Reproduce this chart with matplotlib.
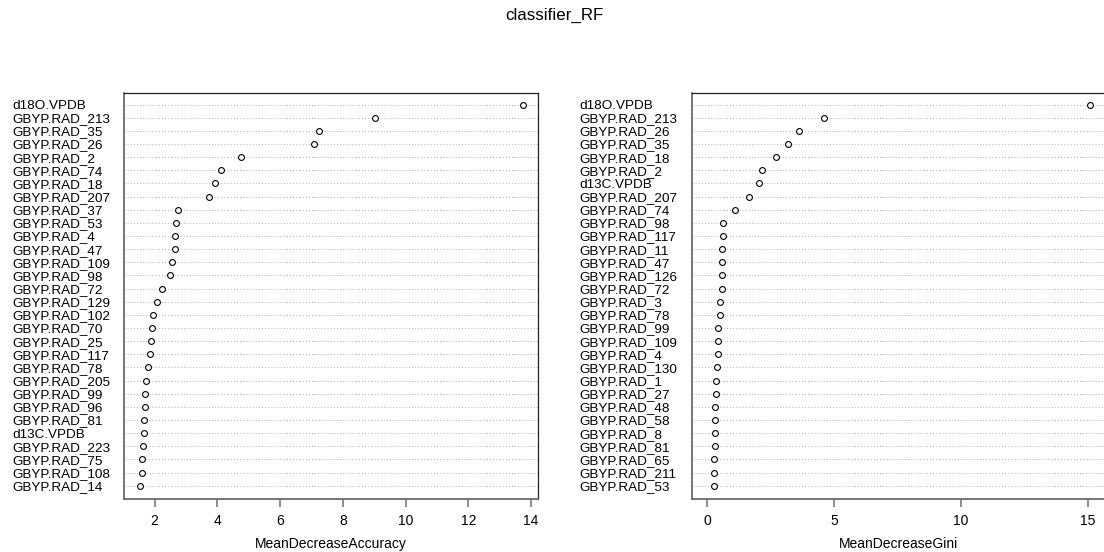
import matplotlib
matplotlib.use("Agg")
import matplotlib.pyplot as plt

plt.rcParams["font.family"] = ["Liberation Sans", "DejaVu Sans"]

# Variable importance from the random forest, listed from most to least important
acc_labels = [
    "d18O.VPDB", "GBYP.RAD_213", "GBYP.RAD_35", "GBYP.RAD_26", "GBYP.RAD_2",
    "GBYP.RAD_74", "GBYP.RAD_18", "GBYP.RAD_207", "GBYP.RAD_37", "GBYP.RAD_53",
    "GBYP.RAD_4", "GBYP.RAD_47", "GBYP.RAD_109", "GBYP.RAD_98", "GBYP.RAD_72",
    "GBYP.RAD_129", "GBYP.RAD_102", "GBYP.RAD_70", "GBYP.RAD_25", "GBYP.RAD_117",
    "GBYP.RAD_78", "GBYP.RAD_205", "GBYP.RAD_99", "GBYP.RAD_96", "GBYP.RAD_81",
    "d13C.VPDB", "GBYP.RAD_223", "GBYP.RAD_75", "GBYP.RAD_108", "GBYP.RAD_14",
]
acc_values = [
    13.73, 9.03, 7.23, 7.08, 4.75,
    4.13, 3.92, 3.74, 2.74, 2.68,
    2.65, 2.64, 2.55, 2.49, 2.24,
    2.06, 1.96, 1.90, 1.89, 1.84,
    1.78, 1.72, 1.69, 1.68, 1.67,
    1.66, 1.64, 1.60, 1.58, 1.52,
]

gini_labels = [
    "d18O.VPDB", "GBYP.RAD_213", "GBYP.RAD_26", "GBYP.RAD_35", "GBYP.RAD_18",
    "GBYP.RAD_2", "d13C.VPDB", "GBYP.RAD_207", "GBYP.RAD_74", "GBYP.RAD_98",
    "GBYP.RAD_117", "GBYP.RAD_11", "GBYP.RAD_47", "GBYP.RAD_126", "GBYP.RAD_72",
    "GBYP.RAD_3", "GBYP.RAD_78", "GBYP.RAD_99", "GBYP.RAD_109", "GBYP.RAD_4",
    "GBYP.RAD_130", "GBYP.RAD_1", "GBYP.RAD_27", "GBYP.RAD_48", "GBYP.RAD_58",
    "GBYP.RAD_8", "GBYP.RAD_81", "GBYP.RAD_65", "GBYP.RAD_211", "GBYP.RAD_53",
]
gini_values = [
    15.10, 4.62, 3.61, 3.20, 2.69,
    2.17, 2.03, 1.65, 1.09, 0.63,
    0.61, 0.59, 0.58, 0.58, 0.57,
    0.50, 0.50, 0.44, 0.43, 0.43,
    0.37, 0.36, 0.36, 0.32, 0.32,
    0.32, 0.29, 0.28, 0.28, 0.28,
]

acc_ticks = [2, 4, 6, 8, 10, 12, 14]
gini_ticks = [0, 5, 10, 15]

W, H, DPI = 1104, 552, 100
fig = plt.figure(figsize=(W / DPI, H / DPI), dpi=DPI)
fig.text(554 / W, 1 - 15 / H, "classifier_RF", ha="center", va="center", fontsize=12.2)

FS = 10
LABEL_FS = 9.7


def dotchart(left_px, right_px, labels, values, xlim, ticks, xlabel, label_x_px):
    top_px, bottom_px = 92.7, 499.0
    ax = fig.add_axes([left_px / W, 1 - bottom_px / H,
                       (right_px - left_px) / W, (bottom_px - top_px) / H])
    n = len(values)
    ypos = [n - i for i in range(n)]
    ax.set_xlim(*xlim)
    ax.set_ylim(-0.01, n + 0.9)
    ax.hlines(ypos, xlim[0], xlim[1], colors="#b8b8b8",
              linestyles=(0, (1.0, 2.0)), linewidth=0.75, zorder=1)
    ax.plot(values, ypos, linestyle="none", marker="o", markersize=4.2,
            markerfacecolor="white", markeredgecolor="black",
            markeredgewidth=0.8, zorder=3, clip_on=False)
    ax.set_yticks(ypos)
    ax.set_yticklabels(labels, fontsize=LABEL_FS)
    pad_pt = (left_px - label_x_px) * 72 / DPI
    ax.tick_params(axis="y", length=0, pad=pad_pt)
    for t in ax.get_yticklabels():
        t.set_horizontalalignment("left")
    ax.set_xticks(ticks)
    ax.set_xticklabels([str(t) for t in ticks], fontsize=FS)
    ax.tick_params(axis="x", direction="out", length=5.5, width=1.1,
                   color="#707070", pad=5.5)
    ax.set_xlabel(xlabel, fontsize=FS, labelpad=6)
    for side in ("top", "right"):
        ax.spines[side].set_color("#222222")
        ax.spines[side].set_linewidth(0.9)
    for side in ("left", "bottom"):
        ax.spines[side].set_color("#6a6a6a")
        ax.spines[side].set_linewidth(1.3)
    return ax


# Accuracy axis spans the data range padded by 4% on each side
a_lo, a_hi = min(acc_values), max(acc_values)
a_pad = 0.04 * (a_hi - a_lo)
dotchart(124.3, 537.9, acc_labels, acc_values, (a_lo - a_pad, a_hi + a_pad),
         acc_ticks, "MeanDecreaseAccuracy", 12)

# Gini axis starts from zero, also padded by 4%
g_lo, g_hi = 0.0, max(gini_values)
g_pad = 0.04 * (g_hi - g_lo)
dotchart(692.0, 1105.5, gini_labels, gini_values, (g_lo - g_pad, g_hi + g_pad),
         gini_ticks, "MeanDecreaseGini", 579.5)

fig.savefig("out.png", dpi=DPI)
